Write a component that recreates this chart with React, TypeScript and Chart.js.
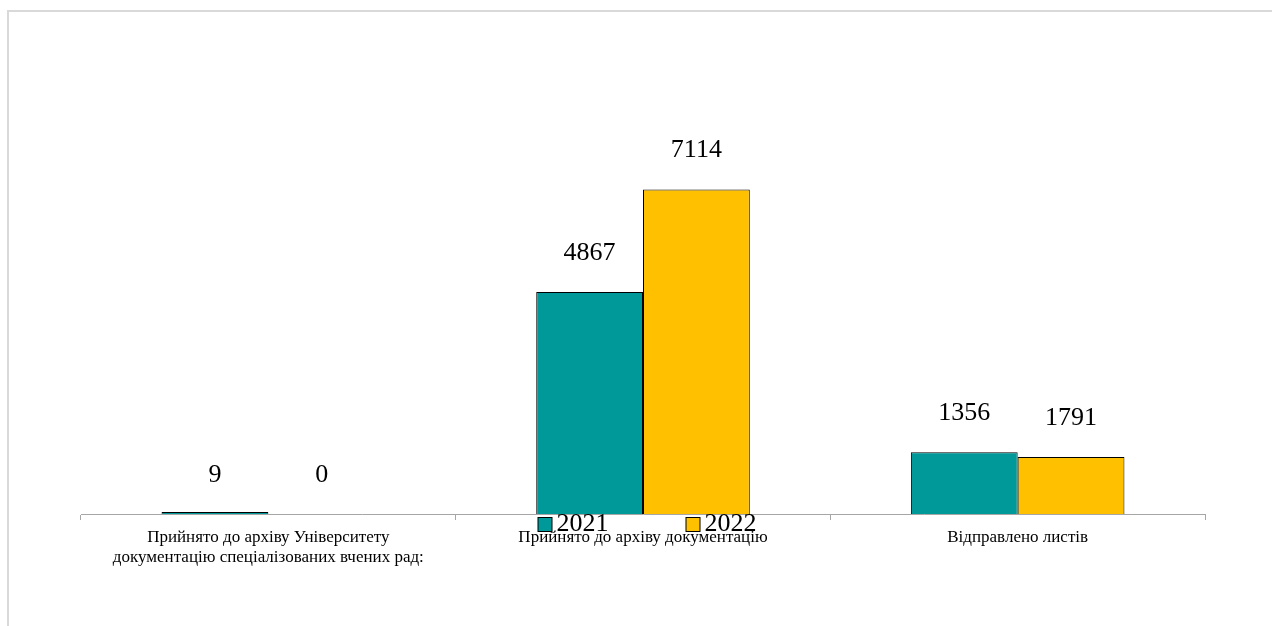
import React, { useEffect, useRef } from "react";
import { Chart, registerables } from "chart.js";

Chart.register(...registerables);

const categories: (string | string[])[] = [
  ["Прийнято до архіву Університету", "документацію спеціалізованих вчених рад:"],
  "Прийнято до архіву документацію",
  "Відправлено листів",
];
const seriesNames = ["2021", "2022"];
const values2021 = [9, 4867, 1356];
const values2022 = [0, 7114, 1248];
const labels2021 = ["9", "4867", "1356"];
const labels2022 = ["0", "7114", "1791"];
const colors = ["#009999", "#FFC000"];

const SERIF = "'Liberation Serif', 'Times New Roman', serif";

export default function App() {
  const ref = useRef<HTMLCanvasElement | null>(null);

  useEffect(() => {
    if (!ref.current) return;
    const valueLabels = [labels2021, labels2022];

    const dataLabelPlugin = {
      id: "dataLabels",
      afterDatasetsDraw(chart: any) {
        const ctx = chart.ctx;
        const yScale = chart.scales.y;
        ctx.save();
        ctx.font = `26px ${SERIF}`;
        ctx.fillStyle = "#000";
        ctx.textAlign = "center";
        ctx.textBaseline = "alphabetic";
        chart.data.datasets.forEach((ds: any, di: number) => {
          const meta = chart.getDatasetMeta(di);
          meta.data.forEach((el: any, i: number) => {
            const top = yScale.getPixelForValue(ds.data[i]);
            ctx.fillText(valueLabels[di][i], el.x, top - 32);
          });
        });
        ctx.restore();
      },
    };

    const legendPlugin = {
      id: "customLegend",
      afterDraw(chart: any) {
        const ctx = chart.ctx;
        const area = chart.chartArea;
        ctx.save();
        ctx.font = `26px ${SERIF}`;
        const box = 14;
        const gapText = 5;
        const gapItems = 77;
        const items = chart.data.datasets.map((ds: any) => ({
          label: ds.label,
          color: ds.backgroundColor,
          w: box + gapText + ctx.measureText(ds.label).width,
        }));
        const total = items.reduce((s: number, it: any) => s + it.w, 0) + gapItems * (items.length - 1);
        let x = (area.left + area.right) / 2 + 4 - total / 2;
        const boxTop = area.bottom + 3;
        items.forEach((it: any) => {
          ctx.fillStyle = it.color;
          ctx.fillRect(x + 0.5, boxTop + 0.5, box, box);
          ctx.strokeStyle = "#000";
          ctx.lineWidth = 1;
          ctx.strokeRect(x + 0.5, boxTop + 0.5, box, box);
          ctx.fillStyle = "#000";
          ctx.textAlign = "left";
          ctx.textBaseline = "alphabetic";
          ctx.fillText(it.label, x + box + gapText, boxTop + 14);
          x += it.w + gapItems;
        });
        ctx.restore();
      },
    };

    const chart = new Chart(ref.current, {
      type: "bar",
      data: {
        labels: categories,
        datasets: [
          {
            label: seriesNames[0],
            data: values2021,
            backgroundColor: colors[0],
            borderColor: "#000",
            borderWidth: 1,
            minBarLength: 2,
            categoryPercentage: 0.57,
            barPercentage: 1,
          },
          {
            label: seriesNames[1],
            data: values2022,
            backgroundColor: colors[1],
            borderColor: "#000",
            borderWidth: 1,
            categoryPercentage: 0.57,
            barPercentage: 1,
          },
        ],
      },
      options: {
        responsive: false,
        animation: false,
        layout: { padding: { left: 81, right: 67, top: 149, bottom: 0 } },
        plugins: {
          legend: { display: false },
          tooltip: { enabled: false },
        },
        scales: {
          y: {
            display: false,
            min: 0,
            max: 8000,
          },
          x: {
            afterFit: (scale: any) => {
              scale.height = 112;
            },
            grid: {
              display: true,
              offset: true,
              drawOnChartArea: false,
              drawTicks: true,
              tickLength: 6,
              color: "#a6a6a6",
            },
            border: { display: true, color: "#a6a6a6", width: 1 },
            ticks: {
              color: "#000",
              padding: 8,
              maxRotation: 0,
              autoSkip: false,
              font: { family: SERIF, size: 17, lineHeight: "20px" },
            },
          },
        },
      },
      plugins: [dataLabelPlugin, legendPlugin],
    });
    return () => chart.destroy();
  }, []);

  return (
    <>
      <div
        style={{
          position: "absolute",
          left: 7,
          top: 10,
          width: 1265,
          height: 616,
          boxSizing: "border-box",
          borderLeft: "2px solid #d9d9d9",
          borderTop: "2px solid #d9d9d9",
        }}
      />
      <canvas
        ref={ref}
        width={1272}
        height={626}
        style={{ position: "absolute", left: 0, top: 0, width: 1272, height: 626 }}
      />
    </>
  );
}
